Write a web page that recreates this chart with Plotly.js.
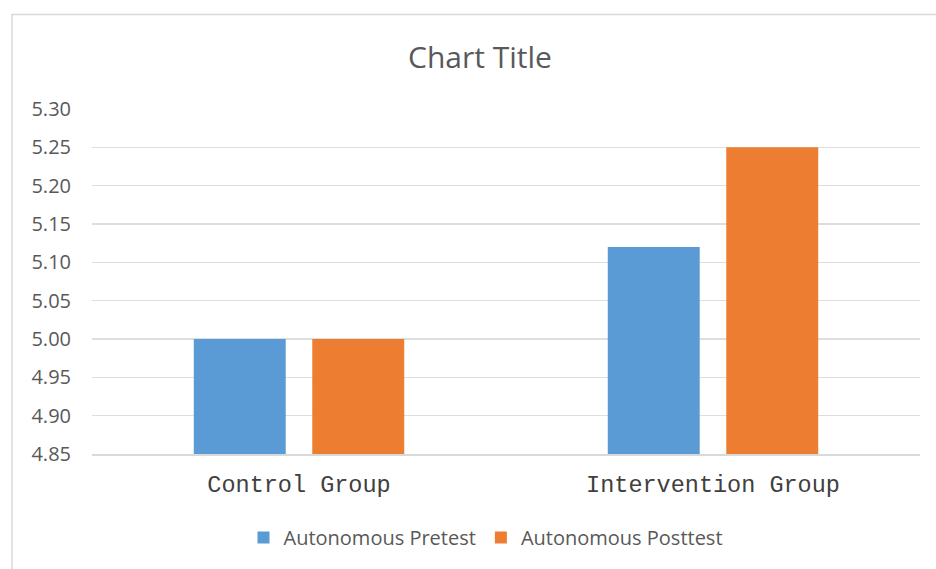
<!DOCTYPE html>
<html>
<head>
<meta charset="utf-8">
<script src="https://cdn.plot.ly/plotly-3.0.1.min.js"></script>
<style>html,body{margin:0;padding:0;background:#fff;}#chart{width:936px;height:569px;}</style>
</head>
<body>
<div id="chart"></div>
<script>
var categories = ["Control Group", "Intervention Group"];
var seriesNames = ["Autonomous Pretest", "Autonomous Posttest"];
var pretest = [5.00, 5.12];
var posttest = [5.00, 5.25];
var yTicks = [4.85, 4.90, 4.95, 5.00, 5.05, 5.10, 5.15, 5.20, 5.25, 5.30];

var ml = 92, mr = 16, mt = 109, mb = 113, W = 936, H = 569;
var pw = W - ml - mr, ph = H - mt - mb;
function px2x(p){ return (p - ml) / pw; }
function py2y(p){ return (H - mb - p) / ph; }

var data = [
  {type: 'bar', name: seriesNames[0], x: categories, y: pretest, marker: {color: '#5B9BD5'}, hoverinfo: 'y'},
  {type: 'bar', name: seriesNames[1], x: categories, y: posttest, marker: {color: '#ED7D31'}, hoverinfo: 'y'}
];

var layout = {
  width: W, height: H,
  margin: {l: ml, r: mr, t: mt, b: mb},
  paper_bgcolor: '#ffffff', plot_bgcolor: '#ffffff',
  font: {family: 'Open Sans, sans-serif', color: '#595959'},
  title: {text: 'Chart Title', font: {family: 'Open Sans, sans-serif', size: 30, color: '#595959'},
          x: px2x(480), xanchor: 'center', xref: 'paper', y: 1 - 57 / H, yref: 'container', yanchor: 'middle'},
  barmode: 'group', bargap: 0.4275, bargroupgap: 0.224,
  xaxis: {type: 'category', showline: true, linecolor: '#D9D9D9', linewidth: 1.5, showgrid: false, ticks: '',
          tickfont: {family: 'Liberation Mono, monospace', size: 23.5, color: '#404040'}, ticklabelstandoff: 8, fixedrange: true},
  yaxis: {range: [4.85, 5.30], tickvals: yTicks, ticktext: yTicks.map(function(v){return v.toFixed(2);}),
          showgrid: true, gridcolor: '#DEDEDE', gridwidth: 1.5, zeroline: false, showline: false, ticks: '',
          tickfont: {family: 'Open Sans, sans-serif', size: 20, color: '#595959'}, ticklabelstandoff: 20, fixedrange: true},
  showlegend: true,
  legend: {orientation: 'h', x: px2x(486), xanchor: 'center', y: py2y(540), yanchor: 'middle',
           font: {family: 'Open Sans, sans-serif', size: 20, color: '#595959'}, itemsizing: 'constant', traceorder: 'normal'},
  shapes: [{type: 'rect', xref: 'paper', yref: 'paper', x0: px2x(12), x1: px2x(945), y0: py2y(580), y1: py2y(14),
            line: {color: '#D9D9D9', width: 1.5}, fillcolor: 'rgba(0,0,0,0)', layer: 'below'}]
};

Plotly.newPlot('chart', data, layout, {displayModeBar: false, staticPlot: true});
</script>
</body>
</html>
